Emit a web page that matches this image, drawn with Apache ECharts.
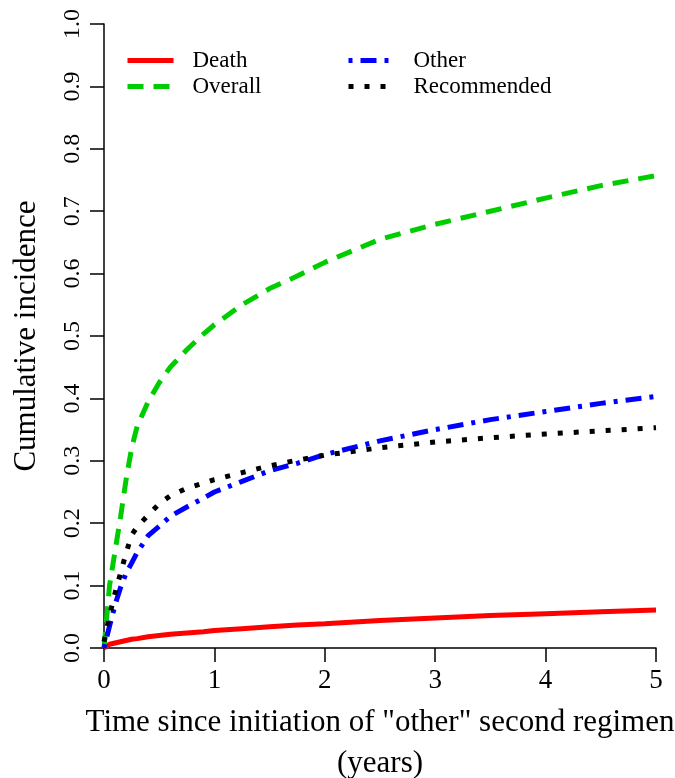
<!DOCTYPE html>
<html>
<head>
<meta charset="utf-8">
<script src="https://cdn.jsdelivr.net/npm/echarts@6/dist/echarts.min.js"></script>
<style>
  html, body { margin: 0; padding: 0; background: #fff; }
  #main { width: 675px; height: 778px; }
</style>
</head>
<body>
<div id="main"></div>
<script>
// time points (years)
const times = [0, 0.05, 0.1, 0.15, 0.2, 0.25, 0.3, 0.4, 0.5, 0.6, 0.75, 0.9, 1, 1.25, 1.5, 1.75, 2, 2.5, 3, 3.5, 4, 4.5, 5];

const death = [0, 0.006, 0.008, 0.010, 0.012, 0.014, 0.015, 0.018, 0.020, 0.022, 0.024, 0.026, 0.028, 0.031, 0.034, 0.037, 0.039, 0.044, 0.048, 0.052, 0.055, 0.058, 0.061];
const overall = [0, 0.100, 0.155, 0.210, 0.270, 0.320, 0.355, 0.395, 0.425, 0.450, 0.478, 0.503, 0.518, 0.550, 0.576, 0.596, 0.618, 0.655, 0.679, 0.700, 0.721, 0.741, 0.757];
const other = [0, 0.035, 0.069, 0.097, 0.120, 0.136, 0.153, 0.180, 0.195, 0.211, 0.226, 0.240, 0.250, 0.267, 0.284, 0.296, 0.310, 0.332, 0.350, 0.366, 0.379, 0.392, 0.403];
const recommended = [0.010, 0.052, 0.088, 0.120, 0.152, 0.181, 0.194, 0.213, 0.231, 0.244, 0.256, 0.264, 0.270, 0.281, 0.292, 0.301, 0.309, 0.321, 0.330, 0.337, 0.343, 0.348, 0.353];

const font = 'Liberation Serif';

function pairs(vals) {
    return times.map((t, i) => [t, vals[i]]);
}

function line(name, vals, color, type) {
    return {
        name: name,
        type: 'line',
        symbol: 'none',
        data: pairs(vals),
        lineStyle: { color: color, width: 5, type: type, cap: 'butt' },
        itemStyle: { color: color }
    };
}

function legendBox(names, left) {
    return {
        data: names,
        orient: 'vertical',
        left: left, top: 44,
        itemWidth: 46, itemHeight: 14, itemGap: 3,
        itemStyle: { color: 'transparent', opacity: 0, borderWidth: 0 },
        lineStyle: { width: 5 },
        textStyle: { fontFamily: font, fontSize: 23, lineHeight: 23, color: '#000', padding: [0, 0, 0, 14] }
    };
}

const chart = echarts.init(document.getElementById('main'));
chart.setOption({
    animation: false,
    backgroundColor: '#fff',
    textStyle: { fontFamily: font },
    grid: { left: 104, right: 19, top: 24, bottom: 130, outerBoundsMode: 'none' },
    legend: [
        legendBox(['Death', 'Overall'], 120),
        legendBox(['Other', 'Recommended'], 341)
    ],
    xAxis: {
        type: 'value',
        min: 0, max: 5, interval: 1,
        name: 'Time since initiation of "other" second regimen\n(years)',
        nameLocation: 'middle',
        nameGap: 54,
        nameTextStyle: { fontFamily: font, fontSize: 31, color: '#000', lineHeight: 41 },
        axisLine: { show: true, lineStyle: { color: '#000', width: 1.5 } },
        axisTick: { show: true, length: 14, lineStyle: { color: '#000', width: 1.5 } },
        axisLabel: { fontFamily: font, fontSize: 27, color: '#000', margin: 19 },
        splitLine: { show: false }
    },
    yAxis: {
        type: 'value',
        min: 0, max: 1, interval: 0.1,
        name: 'Cumulative incidence',
        nameLocation: 'middle',
        nameRotate: 90,
        nameGap: 62,
        nameTextStyle: { fontFamily: font, fontSize: 31, color: '#000' },
        axisLine: { show: true, lineStyle: { color: '#000', width: 1.5 } },
        axisTick: { show: true, length: 14, lineStyle: { color: '#000', width: 1.5 } },
        axisLabel: {
            fontFamily: font, fontSize: 24, color: '#000', rotate: 90, margin: 19,
            formatter: v => v.toFixed(1)
        },
        splitLine: { show: false }
    },
    series: [
        line('Death', death, '#ff0000', 'solid'),
        line('Overall', overall, '#00cd00', [16, 10]),
        line('Other', other, '#0000ff', [4, 8, 16, 8]),
        line('Recommended', recommended, '#000000', [5, 11])
    ]
});
</script>
</body>
</html>
